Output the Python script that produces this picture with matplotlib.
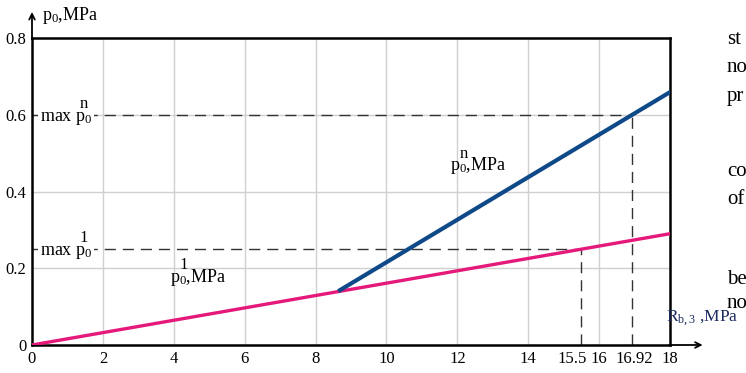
import matplotlib
matplotlib.use("Agg")
import matplotlib.pyplot as plt
import matplotlib.transforms as mtrans

plt.rcParams['font.family'] = ['Liberation Serif', 'DejaVu Serif']
plt.rcParams['mathtext.fontset'] = 'custom'
plt.rcParams['mathtext.rm'] = 'Liberation Serif'
plt.rcParams['mathtext.it'] = 'Liberation Serif:italic'

# data
x_red = [0, 18]
y_red = [0, 0.290]
x_blue = [8.69, 18]
y_blue = [0.143, 0.659]
x_ticks = [0, 2, 4, 6, 8, 10, 12, 14, 15.5, 16, 16.92, 18]
x_tick_labels = ['0', '2', '4', '6', '8', '10', '12', '14', '15.5', '16', '16.92', '18']
y_ticks = [0, 0.2, 0.4, 0.6, 0.8]
y_tick_labels = ['0', '0.2', '0.4', '0.6', '0.8']
max_p_1 = (15.5, 0.25)
max_p_n = (16.92, 0.6)
side_words = [('st', 40), ('no', 68), ('pr', 96), ('co', 172), ('of', 199), ('be', 279), ('no', 304)]

fig = plt.figure(figsize=(7.46, 3.73), dpi=100)
ax = fig.add_axes([32 / 746, 28 / 373, 638 / 746, 307 / 373])

ax.set_xlim(0, 18)
ax.set_ylim(0, 0.8)

# grid
for gx in range(2, 18, 2):
    ax.axvline(gx, color='#d0d0d0', lw=1, zorder=0)
for gy in (0.2, 0.4, 0.6):
    ax.axhline(gy, color='#d0d0d0', lw=1, zorder=0)

# dashed guide lines
dash = dict(color='#333333', lw=1, ls=(0, (8, 5)), zorder=1)
ax.plot([0, max_p_n[0]], [max_p_n[1], max_p_n[1]], **dash)
ax.plot([max_p_n[0], max_p_n[0]], [0, max_p_n[1]], **dash)
ax.plot([0, max_p_1[0]], [max_p_1[1], max_p_1[1]], **dash)
ax.plot([max_p_1[0], max_p_1[0]], [0, max_p_1[1]], **dash)

ax.plot(x_red, y_red, color='#e5197a', lw=2.4, zorder=3)
ax.plot(x_blue, y_blue, color='#0f4a88', lw=3, zorder=3)

for s in ax.spines.values():
    s.set_color('black')
    s.set_linewidth(1.8)

ax.set_xticks(x_ticks)
ax.set_xticklabels(x_tick_labels)
ax.set_yticks(y_ticks)
ax.set_yticklabels(y_tick_labels)
ax.tick_params(length=0, labelsize=12, pad=4)

# nudge the crowded 15.5 label to the left, as in the original
for lab in ax.get_xticklabels():
    if lab.get_text() == '15.5':
        lab.set_transform(lab.get_transform() + mtrans.ScaledTranslation(-0.09, 0, fig.dpi_scale_trans))
    if lab.get_text() == '16.92':
        lab.set_transform(lab.get_transform() + mtrans.ScaledTranslation(0.03, 0, fig.dpi_scale_trans))

# axis arrows
ax.annotate('', xy=(0, 0.875), xytext=(0, 0.79), xycoords='data',
            arrowprops=dict(arrowstyle='->', lw=1.3, color='black'), annotation_clip=False)
ax.annotate('', xy=(19.0, 0), xytext=(17.9, 0), xycoords='data',
            arrowprops=dict(arrowstyle='->', lw=1.3, color='black'), annotation_clip=False)

# labels
fig.text(42 / 746, 1 - 16 / 373, r'p$_0$,MPa', fontsize=13, va='center', ha='left')
fig.text(666 / 746, 1 - 318 / 373, r'R$_{\rm b,3}$ ,MPa', fontsize=12.5, va='center',
         ha='left', color='#1b2a5e')


def p0_label(x, y, sup, tail, prefix=''):
    # p_0 with a tall superscript placed above the subscript
    ax.text(x, y, prefix + r'p$_0$' + tail, fontsize=13, va='baseline', ha='left',
            bbox=dict(facecolor='white', edgecolor='none', pad=1) if prefix else None,
            zorder=2)
    dx = 28.5 if prefix else 7
    ax.annotate(sup, xy=(x, y), xytext=(dx, 9), textcoords='offset points',
                fontsize=12, va='baseline', ha='left', zorder=2)


p0_label(0.22, 0.585, 'n', '', prefix='max ')
p0_label(0.22, 0.235, '1', '', prefix='max ')
p0_label(11.8, 0.455, 'n', ',MPa')
p0_label(3.9, 0.165, '1', ',MPa')

for word, py in side_words:
    fig.text(727 / 746, 1 - py / 373, word, fontsize=15, va='center', ha='left')

fig.savefig('out.png', dpi=100)
